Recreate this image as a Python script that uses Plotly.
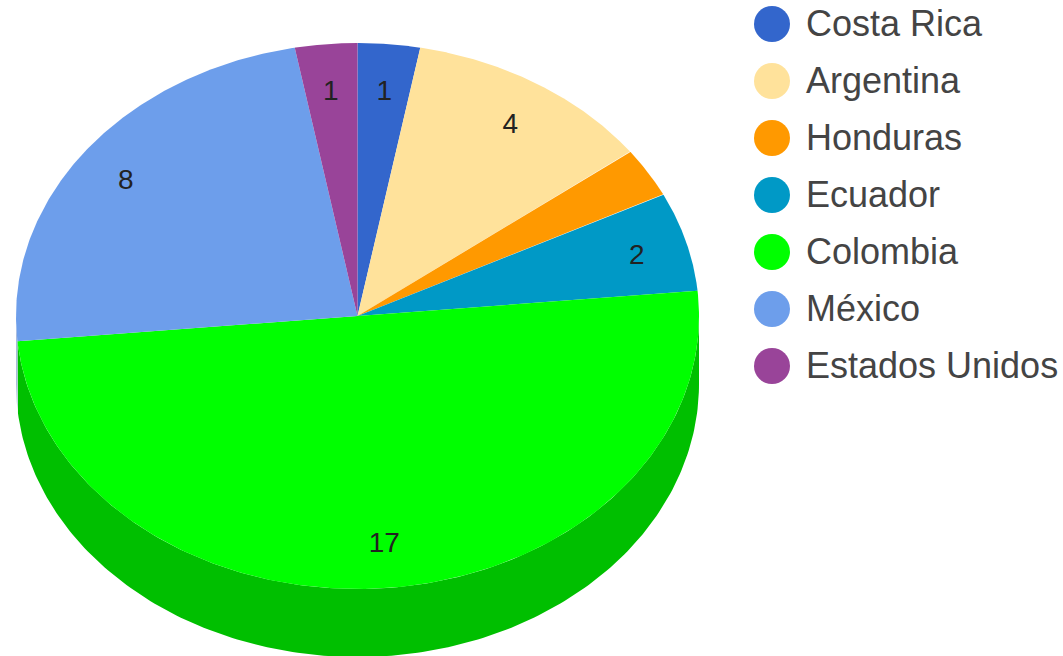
import numpy as np
import plotly.graph_objects as go

categories = ["Costa Rica", "Argentina", "Honduras", "Ecuador", "Colombia", "México", "Estados Unidos"]
values = [1, 4, 1, 2, 17, 8, 1]
labels_shown = [True, True, False, True, True, True, True]
colors = ["#3366cc", "#ffe29b", "#ff9900", "#0099c6", "#00ff00", "#6d9eeb", "#994499"]
side_colors = ["#264d99", "#bfa974", "#bf7300", "#007394", "#00bf00", "#a9bbdc", "#733373"]

W, H = 1063, 656
CX, CY, RX, RY, DEPTH = 357.5, 316, 341.5, 273, 68
LABEL_RX, LABEL_RY = 0.85, 0.83
FONT = "Liberation Sans, Arial, sans-serif"


def pt(t, off=0.0):
    t = np.asarray(t)
    return CX + RX * np.sin(t), CY - RY * np.cos(t) + off


fig = go.Figure()
total = sum(values)
cum = np.cumsum([0] + values) / total * 2 * np.pi

# side wall
for i in range(len(values)):
    a, b = max(cum[i], np.pi / 2), min(cum[i + 1], 3 * np.pi / 2)
    if b <= a:
        continue
    t = np.linspace(a, b, 200)
    x1, y1 = pt(t)
    x2, y2 = pt(t[::-1], DEPTH)
    fig.add_trace(go.Scatter(x=np.r_[x1, x2], y=np.r_[y1, y2], mode="lines", fill="toself",
                             fillcolor=side_colors[i], line=dict(width=0), hoverinfo="skip", showlegend=False))

# top slices
for i in range(len(values)):
    t = np.linspace(cum[i], cum[i + 1], 200)
    x, y = pt(t)
    fig.add_trace(go.Scatter(x=np.r_[CX, x, CX], y=np.r_[CY, y, CY], mode="lines", fill="toself",
                             fillcolor=colors[i], line=dict(width=0), name=categories[i],
                             hoverinfo="name", showlegend=False))

# slice labels
mid = (cum[:-1] + cum[1:]) / 2
lx = CX + LABEL_RX * RX * np.sin(mid)
ly = CY - LABEL_RY * RY * np.cos(mid) + 3
fig.add_trace(go.Scatter(x=lx, y=ly, mode="text",
                         text=[str(v) if s else "" for v, s in zip(values, labels_shown)],
                         textposition="middle center",
                         textfont=dict(family=FONT, size=28, color="#222222"),
                         hoverinfo="skip", showlegend=False))

# legend
LEG_X, LEG_TX, LEG_Y0, LEG_STEP = 772, 806, 24, 57
rows = LEG_Y0 + LEG_STEP * np.arange(len(categories))
fig.add_trace(go.Scatter(x=[LEG_X] * len(categories), y=rows, mode="markers",
                         marker=dict(size=36, color=colors, line=dict(width=0)),
                         hoverinfo="skip", showlegend=False))
fig.add_trace(go.Scatter(x=[LEG_TX] * len(categories), y=rows + 3, mode="text",
                         text=categories, textposition="middle right",
                         textfont=dict(family=FONT, size=36, color="#444444"),
                         hoverinfo="skip", showlegend=False))

fig.update_layout(
    width=W, height=H, margin=dict(l=0, r=0, t=0, b=0),
    paper_bgcolor="white", plot_bgcolor="white", showlegend=False,
    xaxis=dict(range=[0, W], visible=False, fixedrange=True),
    yaxis=dict(range=[H, 0], visible=False, fixedrange=True),
)
fig.write_html("out.html", config={"displayModeBar": False},
               post_script="document.body.style.margin='0';document.documentElement.style.overflow='hidden';")
